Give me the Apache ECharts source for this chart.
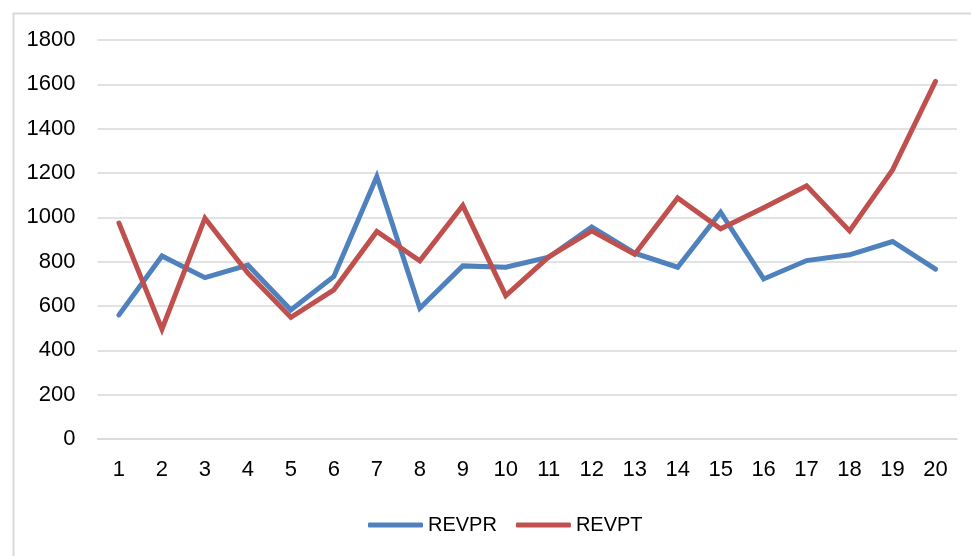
<!DOCTYPE html>
<html>
<head>
<meta charset="utf-8">
<script src="https://cdn.jsdelivr.net/npm/echarts@6/dist/echarts.min.js"></script>
<style>html,body{margin:0;padding:0;background:#fff;}#c{width:971px;height:556px;}</style>
</head>
<body>
<div id="c"></div>
<script>
const categories = ['1','2','3','4','5','6','7','8','9','10','11','12','13','14','15','16','17','18','19','20'];
const revpr = [560, 826, 728, 785, 582, 733, 1184, 590, 781, 775, 820, 956, 838, 775, 1023, 722, 805, 831, 891, 766];
const revpt = [974, 495, 996, 748, 549, 673, 936, 804, 1053, 647, 822, 939, 833, 1087, 948, 1043, 1142, 939, 1214, 1613];
const yTicks = { min: 0, max: 1800, interval: 200 };

const chart = echarts.init(document.getElementById('c'), null, { renderer: 'canvas' });
const font = '"Liberation Sans", Arial, sans-serif';
chart.setOption({
  animation: false,
  backgroundColor: '#fff',
  graphic: [{
    type: 'rect', left: 11, top: 11, silent: true,
    shape: { x: 0, y: 0, width: 970, height: 560 },
    style: { fill: 'none', stroke: '#d9d9d9', lineWidth: 2 }
  }],
  grid: { left: 97.5, right: 14, top: 40, bottom: 117, containLabel: false },
  legend: {
    left: 368, top: 515, padding: 0,
    itemWidth: 55, itemHeight: 5, itemGap: 19,
    icon: 'roundRect',
    textStyle: { fontFamily: font, fontSize: 20, color: '#000' },
    data: ['REVPR', 'REVPT']
  },
  xAxis: {
    type: 'category', data: categories, boundaryGap: true,
    axisLine: { show: true, lineStyle: { color: '#d9d9d9', width: 1.5 } },
    axisTick: { show: false },
    axisLabel: { margin: 20, fontFamily: font, fontSize: 22, color: '#000' }
  },
  yAxis: {
    type: 'value', min: yTicks.min, max: yTicks.max, interval: yTicks.interval,
    axisLine: { show: false }, axisTick: { show: false },
    axisLabel: { margin: 22, fontFamily: font, fontSize: 22, color: '#000', formatter: (v) => String(v) },
    splitLine: { lineStyle: { color: '#d9d9d9', width: 1.5 } }
  },
  series: [
    { name: 'REVPR', type: 'line', data: revpr, symbol: 'none', color: '#4F81BD',
      lineStyle: { width: 5, color: '#4F81BD', cap: 'round', join: 'miter' } },
    { name: 'REVPT', type: 'line', data: revpt, symbol: 'none', color: '#C0504D',
      lineStyle: { width: 5, color: '#C0504D', cap: 'round', join: 'miter' } }
  ]
});
</script>
</body>
</html>
